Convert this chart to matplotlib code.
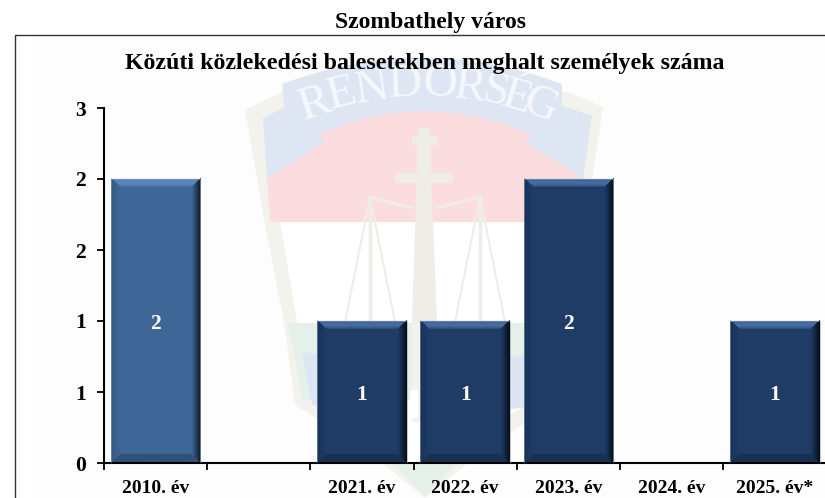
import matplotlib
matplotlib.use('Agg')
import matplotlib.pyplot as plt
from matplotlib.patches import Polygon, Rectangle
import numpy as np

categories = ['2010. év', '', '2021. év', '2022. év', '2023. év', '2024. év', '2025. év*']
values = [2, 0, 1, 1, 2, 0, 1]
bar_colors = ['#3e6797', '#1e3c66', '#1e3c66', '#1e3c66', '#1e3c66', '#1e3c66', '#1e3c66']
y_ticks = [0, 0.5, 1, 1.5, 2, 2.5]
y_tick_labels = ['0', '1', '1', '2', '2', '3']
page_title = 'Szombathely város'
chart_title = 'Közúti közlekedési balesetekben meghalt személyek száma'

plt.rcParams['font.family'] = ['Liberation Serif', 'DejaVu Serif']
W, H = 825, 498
fig = plt.figure(figsize=(W / 100, H / 100), dpi=100, facecolor='white')

# background layer in pixel coordinates
bg = fig.add_axes([0, 0, 1, 1])
bg.set_xlim(0, W)
bg.set_ylim(H, 0)
bg.axis('off')

bg.add_patch(Rectangle((30, 35), W, H, fc='#fdfdfd', ec='none'))

# watermark: police shield
def arc(x0, x1, y_edge, y_mid, n=40):
    xs = np.linspace(x0, x1, n)
    t = (xs - (x0 + x1) / 2) / ((x1 - x0) / 2)
    return list(zip(xs, y_mid + (y_edge - y_mid) * t ** 2))

beige = '#f4f2ed'
bg.add_patch(Polygon([(245, 110), (282, 92), (568, 92), (603, 107), (585, 225), (566, 322), (555, 405),
                      (490, 445), (425, 498), (360, 445), (295, 405), (284, 322), (265, 225)],
                     fc=beige, ec='none'))
inner = [(267, 120), (583, 120), (570, 222), (553, 322), (540, 395), (480, 435), (425, 480),
         (370, 435), (310, 395), (297, 322), (280, 222)]
bg.add_patch(Polygon(inner, fc='white', ec='none'))
# red band
red = [(267, 178)] + arc(288, 562, 148, 108) + [(583, 178), (580, 222), (270, 222)]
bg.add_patch(Polygon(red, fc='#fbdde0', ec='none'))
# green band and blue lower part
bg.add_patch(Polygon([(287, 323), (563, 323), (556, 352), (548, 400), (302, 400), (294, 352)], fc='#e4f0e9', ec='none'))
bg.add_patch(Polygon([(302, 352), (345, 358), (345, 410), (312, 405)], fc='#dce6f3', ec='none'))
bg.add_patch(Polygon([(505, 358), (548, 352), (540, 405), (505, 410)], fc='#dce6f3', ec='none'))
bg.add_patch(Polygon([(392, 462), (458, 462), (425, 497)], fc='#e4f0e9', ec='none'))
# blue ribbon with tails
blue = '#dde6f2'
bg.add_patch(Polygon([(263, 118), (290, 105), (325, 142), (267, 178)], fc=blue, ec='none'))
bg.add_patch(Polygon([(560, 105), (592, 116), (583, 178), (525, 142)], fc=blue, ec='none'))
ribbon = arc(282, 562, 84, 58) + arc(562, 288, 150, 111)
bg.add_patch(Polygon(ribbon, fc=blue, ec='none'))
# ribbon lettering
letters = 'RENDORSÉG'
lx = [315, 342, 372, 405, 440, 470, 496, 517, 540]
ly = [104, 95, 89, 85, 85, 88, 93, 98, 106]
rot = [18, 14, 8, 3, -3, -8, -12, -17, -22]
for ch, x, y, r in zip(letters, lx, ly, rot):
    bg.text(x, y, ch, fontsize=34, color='#f6f8fb', ha='center', va='center', rotation=r, zorder=3)
# cross and scales
cross_c = '#efede7'
bg.add_patch(Polygon([(418, 128), (430, 128), (431, 170), (437, 322), (412, 322), (417, 170)], fc=cross_c, ec='none', zorder=3))
bg.add_patch(Rectangle((395, 173), 58, 10, fc=cross_c, ec='none', zorder=3))
bg.add_patch(Rectangle((412, 136), 25, 9, fc=cross_c, ec='none', zorder=3))
bg.add_patch(Rectangle((412, 322), 25, 100, fc='#f4f2ec', ec='none', zorder=3))
bg.add_patch(Rectangle((410, 390), 8, 28, fc='white', ec='none', zorder=3))
bg.plot([370, 412], [197, 208], color=cross_c, lw=2, zorder=3)
bg.plot([437, 480], [208, 197], color=cross_c, lw=2, zorder=3)
for cx in (370, 480):
    bg.plot([cx, cx], [197, 330], color=cross_c, lw=2.5, zorder=3)
    bg.plot([cx, cx - 25], [197, 322], color=cross_c, lw=1.5, zorder=3)
    bg.plot([cx, cx + 25], [197, 322], color=cross_c, lw=1.5, zorder=3)

# frame of the page
bg.plot([14.5, 14.5, W], [H, 34.5, 34.5], color='#333333', lw=1.0, zorder=4)

bg.text(430.5, 22, page_title, fontsize=17, fontweight='bold', ha='center', va='center', color='black', zorder=5)
bg.text(424.5, 63, chart_title, fontsize=17.2, fontweight='bold', ha='center', va='center', color='black', zorder=5)

# chart
step = 103.2
ax_left, ax_bottom, ax_top = 104.0, 463.0, 108.0
ax = fig.add_axes([ax_left / W, 1 - ax_bottom / H, step * 7 / W, (ax_bottom - ax_top) / H])
ax.patch.set_alpha(0)
x = np.arange(len(categories))
bars = ax.bar(x, values, width=0.867, color=bar_colors, linewidth=0, zorder=2)

# bevel on each bar
b = 9.0
for rect in bars:
    v = rect.get_height()
    if v == 0:
        continue
    x0, x1 = rect.get_x(), rect.get_x() + rect.get_width()
    w_px = int(round(rect.get_width() * step))
    h_px = int(round(v * (ax_bottom - ax_top) / 2.5))
    col, row = np.meshgrid(np.arange(w_px) + 0.5, np.arange(h_px) + 0.5)
    d_l, d_r, d_t, d_b = col, w_px - col, row, h_px - row
    d = np.minimum.reduce([d_l, d_r, d_t, d_b])
    img = np.zeros((h_px, w_px, 4))
    mask = d < b
    right = mask & (d_r == d)
    left = mask & (d_l == d) & ~right
    bottom = mask & (d_b == d) & ~right & ~left
    top = mask & (d_t == d) & ~right & ~left & ~bottom
    img[right, 3] = 0.8 * (1 - d_r[right] / b)
    img[left, 3] = 0.15 * (1 - d_l[left] / b)
    img[bottom, 3] = 0.2
    img[top, :3] = (0.5, 0.7, 0.95)
    img[top, 3] = 0.12 + 0.3 * np.sin(np.pi * d_t[top] / b)
    ax.imshow(img, extent=(x0, x1, 0, v), aspect='auto', origin='upper', zorder=3, interpolation='bilinear')
    ax.add_patch(Rectangle((x0, 0), x1 - x0, v, fc='none', ec='#8ea0b8', lw=0.4, zorder=3))
ax.set_xlim(-0.5, len(categories) - 0.5)
ax.set_ylim(0, 2.5)

for xi, v in zip(x, values):
    if v:
        ax.annotate(str(v), (xi, v / 2), xytext=(0, -2), textcoords='offset points', color='white',
                    fontsize=15.5, fontweight='bold', ha='center', va='center', zorder=5)

for s in ('top', 'right'):
    ax.spines[s].set_visible(False)
ax.spines['left'].set_linewidth(1.5)
ax.spines['bottom'].set_linewidth(1.5)
ax.set_yticks(y_ticks)
ax.set_yticklabels(y_tick_labels, fontsize=15.5, fontweight='bold')
ax.tick_params(axis='y', length=5, width=1.3, pad=8)
ax.set_xticks(np.arange(len(categories) + 1) - 0.5)
ax.set_xticklabels([])
ax.tick_params(axis='x', which='major', length=5, width=1.3)
ax.set_xticks(x, minor=True)
ax.set_xticklabels(categories, minor=True, fontsize=14, fontweight='bold')
ax.tick_params(axis='x', which='minor', length=0, pad=12)

fig.savefig('out.png', dpi=100)
